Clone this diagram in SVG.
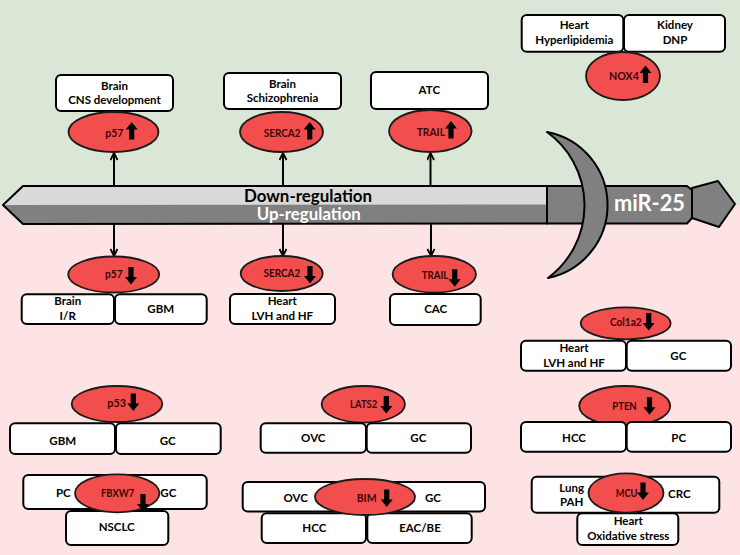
<svg xmlns="http://www.w3.org/2000/svg" xmlns:xlink="http://www.w3.org/1999/xlink" width="740" height="555" viewBox="0 0 740 555">
<defs>
<style>
.bx{fill:#fff;stroke:#000;stroke-width:2}
.el{fill:#f24e4e;stroke:#1a1a1a;stroke-width:1.8}
.t{font-family:Lato,"Liberation Sans",Arial,sans-serif;font-weight:bold;font-size:11.5px;text-anchor:middle;fill:#000}
.et{font-size:10.5px;fill:#3a0505;text-anchor:end}
.cn{stroke:#000;stroke-width:2;fill:none}
.big{font-family:Lato,"Liberation Sans",Arial,sans-serif;font-weight:bold;text-anchor:middle}
</style>
<path id="dn" d="M-2.6,0 H2.6 V10 H6 L0,17.5 L-6,10 H-2.6 Z"/>
<path id="up" d="M-2.6,17.5 H2.6 V7.5 H6 L0,0 L-6,7.5 H-2.6 Z"/>
<marker id="ah" markerWidth="10" markerHeight="10" refX="8" refY="4" orient="auto" markerUnits="userSpaceOnUse">
<path d="M1,0.5 L8,4 L1,7.5" fill="none" stroke="#000" stroke-width="1.8"/>
</marker>
</defs>
<rect x="0" y="0" width="740" height="205" fill="#dae7d6"/>
<rect x="0" y="205" width="740" height="350" fill="#fde3e3"/>

<g id="connectors">
<line class="cn" x1="114" y1="186" x2="114" y2="153" marker-end="url(#ah)"/>
<line class="cn" x1="283" y1="186" x2="283" y2="153" marker-end="url(#ah)"/>
<line class="cn" x1="430.5" y1="186" x2="430.5" y2="153" marker-end="url(#ah)"/>
<line class="cn" x1="114" y1="224" x2="114" y2="256" marker-end="url(#ah)"/>
<line class="cn" x1="283" y1="224" x2="283" y2="256" marker-end="url(#ah)"/>
<line class="cn" x1="431" y1="224" x2="431" y2="256" marker-end="url(#ah)"/>
</g>

<g id="mir25">
<polygon points="3,205 23,186 547,186 547,204.5" fill="#d9d9d9"/>
<polygon points="3,205 547,204.5 547,223.5 23,224" fill="#808080"/>
<polygon points="3,205 23,186 547,186 547,223.5 23,224" fill="none" stroke="#000" stroke-width="2" stroke-linejoin="round"/>
<polygon points="547,186 687,186 692,190 692,218 687,223.5 547,223.5" fill="#808080" stroke="#000" stroke-width="2" stroke-linejoin="round"/>
<polygon points="692,188 718,181 735,204 719,227 692,218" fill="#808080" stroke="#000" stroke-width="2" stroke-linejoin="round"/>
<path d="M547,132 A74.4,74.4 0 0 1 548,278 A90.5,90.5 0 0 0 547,132 Z" fill="#808080" stroke="#000" stroke-width="2" stroke-linejoin="round"/>
<text class="big" x="308" y="201.5" font-size="16.5" fill="#000" textLength="128" lengthAdjust="spacingAndGlyphs">Down-regulation</text>
<text class="big" x="308.8" y="220" font-size="16.5" fill="#fff" textLength="104" lengthAdjust="spacingAndGlyphs">Up-regulation</text>
<text class="big" x="649.5" y="210.7" font-size="22" fill="#fff" textLength="71" lengthAdjust="spacingAndGlyphs">miR-25</text>
</g>

<g id="p57-up">
<rect class="bx" x="56" y="75" width="117" height="36" rx="5"/>
<text class="t" x="114.5" y="90">Brain</text>
<text class="t" x="114.5" y="104">CNS development</text>
<ellipse class="el" cx="113.5" cy="132" rx="45" ry="20"/>
<text class="t et" x="123.5" y="136.5" textLength="18.3" lengthAdjust="spacingAndGlyphs">p57</text>
<use href="#up" x="131.7" y="122"/>
</g>

<g id="serca2-up">
<rect class="bx" x="224" y="73" width="117" height="36" rx="5"/>
<text class="t" x="282.5" y="88.3">Brain</text>
<text class="t" x="282.5" y="102.3">Schizophrenia</text>
<ellipse class="el" cx="281.5" cy="132" rx="41.5" ry="20"/>
<text class="t et" x="300.5" y="136.5" textLength="36.7" lengthAdjust="spacingAndGlyphs">SERCA2</text>
<use href="#up" x="309.7" y="122"/>
</g>

<g id="trail-up">
<rect class="bx" x="371" y="72" width="117" height="37" rx="5"/>
<text class="t" x="429.3" y="94.3">ATC</text>
<ellipse class="el" cx="430.3" cy="131" rx="41.3" ry="21"/>
<text class="t et" x="445" y="135.5" textLength="28.3" lengthAdjust="spacingAndGlyphs">TRAIL</text>
<use href="#up" x="451" y="121"/>
</g>

<g id="nox4-up">
<rect class="bx" x="521.7" y="15" width="101.6" height="36.7" rx="5"/>
<rect class="bx" x="624" y="15" width="101" height="36.7" rx="5"/>
<text class="t" x="574.3" y="29.3">Heart</text>
<text class="t" x="574.3" y="44.3">Hyperlipidemia</text>
<text class="t" x="675" y="29.3">Kidney</text>
<text class="t" x="675" y="44.3">DNP</text>
<ellipse class="el" cx="623" cy="76" rx="37" ry="24"/>
<text class="t et" x="639" y="79.5" textLength="30" lengthAdjust="spacingAndGlyphs">NOX4</text>
<use href="#up" x="645.5" y="65.5"/>
</g>

<g id="p57-down">
<ellipse class="el" cx="113.7" cy="274.5" rx="45.5" ry="18"/>
<text class="t et" x="122.7" y="277.5" textLength="17.7" lengthAdjust="spacingAndGlyphs">p57</text>
<use href="#dn" x="131" y="267"/>
<rect class="bx" x="21.7" y="294.3" width="92.3" height="29.7" rx="5"/>
<rect class="bx" x="115" y="294.3" width="91.7" height="29.7" rx="5"/>
<text class="t" x="67.7" y="305">Brain</text>
<text class="t" x="67.7" y="320">I/R</text>
<text class="t" x="160.7" y="313.3">GBM</text>
</g>

<g id="serca2-down">
<ellipse class="el" cx="281.7" cy="273.5" rx="41" ry="17.5"/>
<text class="t et" x="300.3" y="277.3" textLength="36.7" lengthAdjust="spacingAndGlyphs">SERCA2</text>
<use href="#dn" x="310" y="266"/>
<rect class="bx" x="230" y="294" width="105" height="30" rx="5"/>
<text class="t" x="282.3" y="305">Heart</text>
<text class="t" x="282.3" y="320">LVH and HF</text>
</g>

<g id="trail-down">
<ellipse class="el" cx="434.3" cy="274.3" rx="41.7" ry="18.3"/>
<text class="t et" x="448.3" y="279.3" textLength="26.6" lengthAdjust="spacingAndGlyphs">TRAIL</text>
<use href="#dn" x="454.7" y="269.3"/>
<rect class="bx" x="390" y="294" width="90.7" height="31" rx="5"/>
<text class="t" x="435.7" y="313.3">CAC</text>
</g>

<g id="col1a2-down">
<ellipse class="el" cx="625.7" cy="323.3" rx="45" ry="16"/>
<text class="t et" x="641.7" y="326.3" textLength="31.7" lengthAdjust="spacingAndGlyphs">Col1a2</text>
<use href="#dn" x="648.7" y="313"/>
<rect class="bx" x="521" y="340.7" width="105" height="30" rx="5"/>
<rect class="bx" x="626.7" y="340.7" width="104.3" height="30" rx="5"/>
<text class="t" x="574" y="352.3">Heart</text>
<text class="t" x="574" y="366.7">LVH and HF</text>
<text class="t" x="678.3" y="360">GC</text>
</g>

<g id="pten-down">
<ellipse class="el" cx="624.7" cy="406" rx="45.5" ry="20"/>
<text class="t et" x="636.7" y="410" textLength="24.4" lengthAdjust="spacingAndGlyphs">PTEN</text>
<use href="#dn" x="649.5" y="397.3"/>
<rect class="bx" x="521" y="422" width="105" height="29.7" rx="5"/>
<rect class="bx" x="626.7" y="422" width="104.3" height="29.7" rx="5"/>
<text class="t" x="574" y="441.7">HCC</text>
<text class="t" x="678.7" y="441.7">PC</text>
</g>

<g id="mcu-down">
<rect class="bx" x="531.7" y="476.7" width="187.6" height="36" rx="5"/>
<rect class="bx" x="577.3" y="513.3" width="101" height="31.7" rx="5"/>
<ellipse class="el" cx="626" cy="493" rx="37.5" ry="19.7"/>
<text class="t et" x="637.3" y="497.3" textLength="21.6" lengthAdjust="spacingAndGlyphs">MCU</text>
<use href="#dn" x="643" y="482.5"/>
<text class="t" x="571.7" y="491.7">Lung</text>
<text class="t" x="571.7" y="505.7">PAH</text>
<text class="t" x="679.3" y="498">CRC</text>
<text class="t" x="628.3" y="525">Heart</text>
<text class="t" x="628.3" y="540">Oxidative stress</text>
</g>

<g id="p53-down">
<ellipse class="el" cx="117" cy="404" rx="45.3" ry="18"/>
<text class="t et" x="126" y="406.9" textLength="18.7" lengthAdjust="spacingAndGlyphs">p53</text>
<use href="#dn" x="133.3" y="393.5"/>
<rect class="bx" x="10" y="423.3" width="105" height="30.7" rx="5"/>
<rect class="bx" x="116" y="423.3" width="104.7" height="30.7" rx="5"/>
<text class="t" x="62.7" y="445">GBM</text>
<text class="t" x="167.7" y="445">GC</text>
</g>

<g id="fbxw7-down">
<rect class="bx" x="23.3" y="475" width="183.4" height="34" rx="5"/>
<rect class="bx" x="66" y="511" width="102.3" height="34" rx="5"/>
<ellipse class="el" cx="117.2" cy="493.3" rx="42.2" ry="19"/>
<text class="t" x="63.3" y="496.7">PC</text>
<text class="t" x="168.3" y="496.7">GC</text>
<text class="t et" x="134.3" y="496.7" textLength="33.3" lengthAdjust="spacingAndGlyphs">FBXW7</text>
<use href="#dn" x="143" y="494"/>
<text class="t" x="116.7" y="530.7">NSCLC</text>
</g>

<g id="lats2-down">
<ellipse class="el" cx="363.3" cy="404.3" rx="41.7" ry="18.3"/>
<text class="t et" x="377.3" y="408.3" textLength="27.3" lengthAdjust="spacingAndGlyphs">LATS2</text>
<use href="#dn" x="386.3" y="396"/>
<rect class="bx" x="260.7" y="423.3" width="105.3" height="29.4" rx="5"/>
<rect class="bx" x="366.7" y="423.3" width="104.3" height="29.4" rx="5"/>
<text class="t" x="313.3" y="442.3">OVC</text>
<text class="t" x="418.3" y="442.3">GC</text>
</g>

<g id="bim-down">
<rect class="bx" x="242.7" y="482" width="242.3" height="29.5" rx="5"/>
<rect class="bx" x="261.7" y="513.3" width="104.3" height="29.7" rx="5"/>
<rect class="bx" x="367.3" y="513.3" width="104.4" height="29.7" rx="5"/>
<ellipse class="el" cx="365" cy="497" rx="50" ry="18"/>
<text class="t" x="295.7" y="501.7">OVC</text>
<text class="t" x="433" y="501.7">GC</text>
<text class="t et" x="376.7" y="501.7" textLength="20" lengthAdjust="spacingAndGlyphs">BIM</text>
<use href="#dn" x="386.7" y="489.5"/>
<text class="t" x="314.3" y="531.7">HCC</text>
<text class="t" x="420" y="532.3">EAC/BE</text>
</g>
</svg>
